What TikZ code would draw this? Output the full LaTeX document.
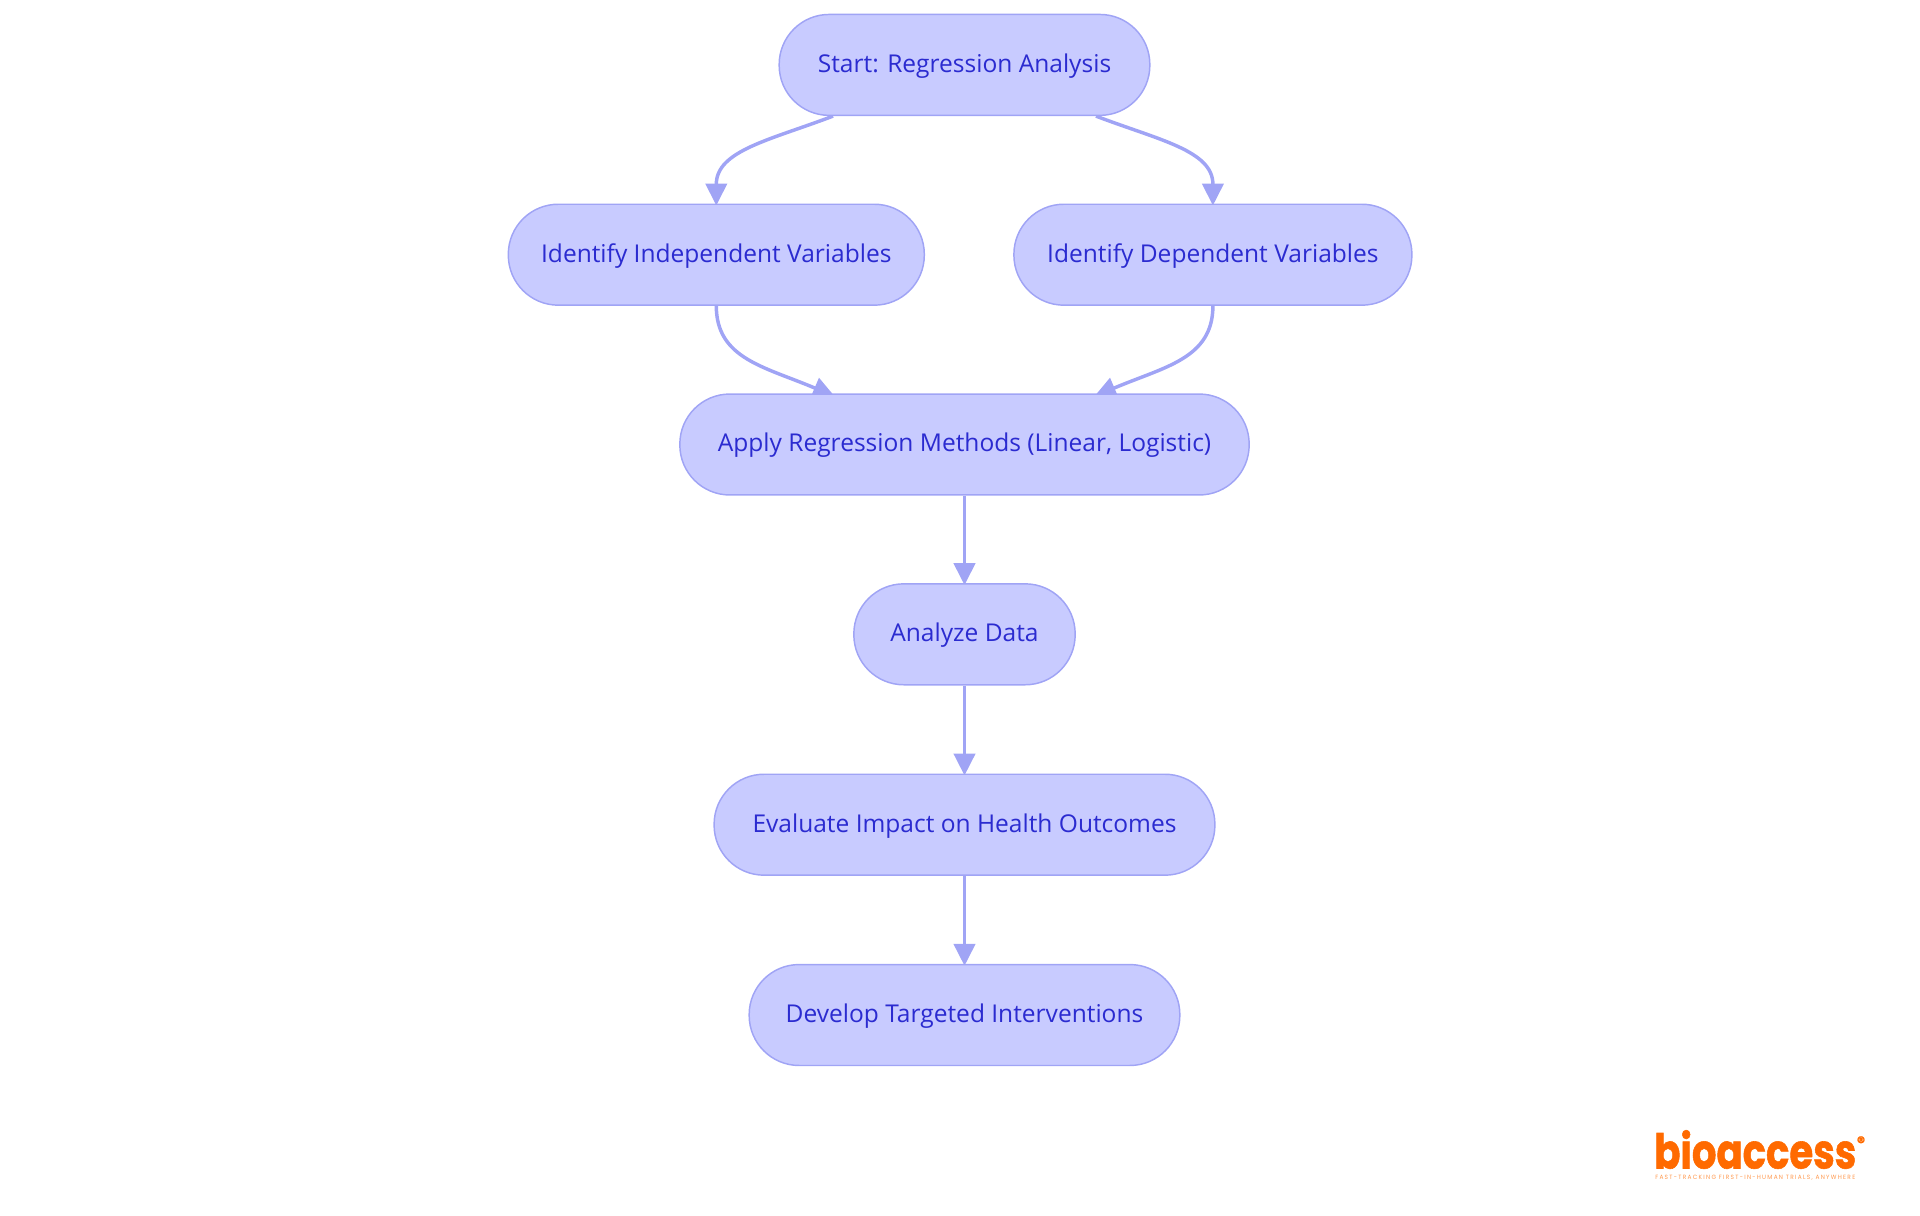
\documentclass[tikz,border=0pt]{standalone}
\usepackage{fontspec}
\usepackage{graphicx}
\setmainfont{Open Sans}
\newfontfamily\logofont[BoldFeatures={FakeBold=1.2}]{Poppins}
\newfontfamily\tagfont[LetterSpace=22]{Poppins}
\usetikzlibrary{arrows.meta,calc}
\definecolor{nodefill}{HTML}{C8CBFF}
\definecolor{nodeline}{HTML}{A0A4F5}
\definecolor{nodetext}{HTML}{2B2BD0}
\definecolor{logoorange}{HTML}{FF6A00}
\pgfdeclarelayer{edges}
\pgfsetlayers{edges,main}
\tikzset{
  x=0.75pt,y=-0.75pt,
  flow/.style={draw=nodeline,fill=nodefill,text=nodetext,line width=1.1pt,rounded corners=37.5pt,
    inner sep=0pt,minimum height=75.7pt,text height=15pt,text depth=4pt,font=\fontsize{18.4pt}{22pt}\selectfont},
  link/.style={draw=nodeline,line width=2.6pt,shorten >=-1.5pt,-{Triangle[length=16.5pt,width=16pt]}},
}
\begin{document}
\begin{tikzpicture}
\useasboundingbox (0,0) rectangle (1920,1215);
\node[flow,minimum width=278pt] (start) at (964.5,64.9) {Start: Regression Analysis};
\node[flow,minimum width=312pt] (indep) at (716.3,254.7) {Identify Independent Variables};
\node[flow,minimum width=298.5pt] (dep) at (1212.9,254.7) {Identify Dependent Variables};
\node[flow,minimum width=427pt] (apply) at (964.5,444.5) {Apply Regression Methods (Linear, Logistic)};
\node[flow,minimum width=166pt] (analyze) at (964.5,634.3) {Analyze Data};
\node[flow,minimum width=375.6pt] (evaluate) at (964.5,824.7) {Evaluate Impact on Health Outcomes};
\node[flow,minimum width=323pt] (develop) at (964.5,1015) {Develop Targeted Interventions};
\begin{pgfonlayer}{edges}
\draw[link] ($(start.south)+(-131.5,0)$) .. controls +(-63,24) and ($(indep.north)+(0,-53)$) .. (indep.north);
\draw[link] ($(start.south)+(131.5,0)$) .. controls +(63,24) and ($(dep.north)+(0,-53)$) .. (dep.north);
\draw[link] (indep.south) .. controls +(0,53) and ($(apply.north)+(-199.5,-26.5)$) .. ($(apply.north)+(-131.5,2.5)$);
\draw[link] (dep.south) .. controls +(0,53) and ($(apply.north)+(199.5,-26.5)$) .. ($(apply.north)+(131.5,2.5)$);
\draw[link] (apply) -- (analyze);
\draw[link] (analyze) -- (evaluate);
\draw[link] (evaluate) -- (develop);
\end{pgfonlayer}
\node[inner sep=0pt,anchor=base west,text=logoorange] (logo) at (1654,1168.5)
  {\resizebox{151.5pt}{\height}{\logofont\bfseries\fontsize{36pt}{36pt}\selectfont bioaccess}};
\node[inner sep=0pt,text=logoorange] (reg) at (1861,1142) {\logofont\bfseries\fontsize{12pt}{12pt}\selectfont ®};
\node[inner sep=0pt,anchor=base west,text=logoorange!70] (tag) at (1655,1179.5)
  {\resizebox{150pt}{\height}{\tagfont\fontsize{4.6pt}{5pt}\selectfont FAST-TRACKING FIRST-IN-HUMAN TRIALS, ANYWHERE}};
\end{tikzpicture}
\end{document}
